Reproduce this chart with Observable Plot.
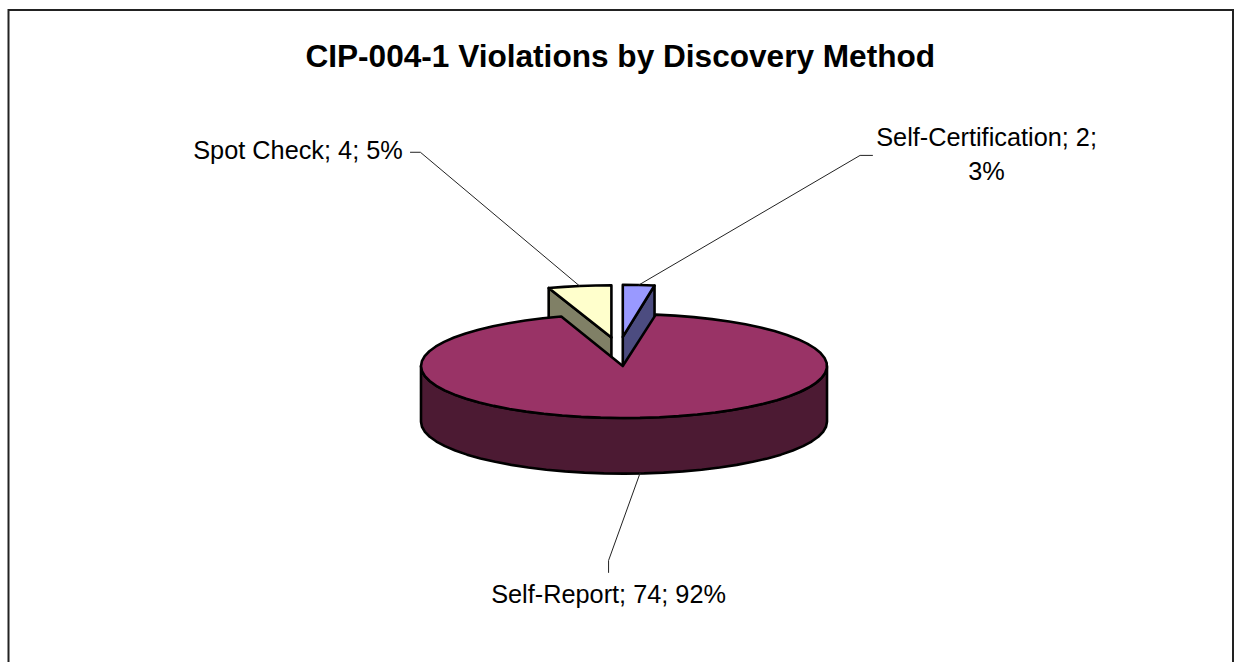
<!DOCTYPE html>
<html>
<head>
<meta charset="utf-8">
<script src="https://cdn.jsdelivr.net/npm/d3@7"></script>
<script src="https://cdn.jsdelivr.net/npm/@observablehq/plot@0.6"></script>
<style>
  html, body { margin: 0; padding: 0; background: #fff; overflow: hidden; }
  svg { display: block; }
</style>
</head>
<body>
<div id="chart"></div>
<script>
// Violations by discovery method, in pie order (clockwise from twelve o'clock)
const methods = ["Self-Certification", "Self-Report", "Spot Check"];
const counts = [2, 74, 4];
const shares = ["3%", "92%", "5%"];
const topColors = ["#9999FF", "#993366", "#FFFFCC"];
const sideColors = ["#4C4C80", "#4C1A33", "#808066"];

// Tilted-disc layout, in units of the disc radius
const depth = 1.07;           // wall height
const hub = [-0.006, 0];      // point where the large slice's edges meet
const explode = [[-0.006, 0.56], hub, [-0.062, 0.55]];
const facet = Math.PI / 32;   // angular length of one outline segment

const arcs = d3.pie().sort(null).value((d) => d)(counts);

const onRim = (angle, [dx, dy] = [0, 0], drop = 0) => ({
  x: Math.sin(angle) + dx,
  y: Math.cos(angle) + dy - drop
});
const sweep = (a0, a1) => {
  const n = Math.max(2, Math.ceil((a1 - a0) / facet));
  return d3.range(0, n + 1).map((i) => a0 + (a1 - a0) * i / n);
};

const polygons = [];
const addPolygon = (name, points, fill) =>
  points.forEach((p) => polygons.push({...p, name, fill}));

// Exploded wedges are drawn first: the large slice's top face overlaps their walls
[0, 2].forEach((i) => {
  const {startAngle: a0, endAngle: a1} = arcs[i];
  const off = explode[i];
  const apex = {x: off[0], y: off[1]};
  const cutAngle = i === 0 ? a1 : a0;
  addPolygon(`${methods[i]} wall`, [
    apex,
    onRim(cutAngle, off),
    onRim(cutAngle, off, depth),
    {x: off[0], y: off[1] - depth},
    apex
  ], sideColors[i]);
  addPolygon(`${methods[i]} top`, [
    apex,
    ...sweep(a0, a1).map((a) => onRim(a, off)),
    apex
  ], topColors[i]);
});

// Large slice: outer wall on the near half, then its top face with the notch
const nearHalf = sweep(Math.PI / 2, 3 * Math.PI / 2);
const hubPoint = {x: hub[0], y: hub[1]};
addPolygon("Self-Report wall", [
  ...nearHalf.map((a) => onRim(a)),
  ...nearHalf.slice().reverse().map((a) => onRim(a, [0, 0], depth)),
  onRim(Math.PI / 2)
], sideColors[1]);
addPolygon("Self-Report top", [
  hubPoint,
  ...sweep(arcs[1].startAngle, arcs[1].endAngle).map((a) => onRim(a)),
  hubPoint
], topColors[1]);

// Leader lines start at the middle of each slice's outer edge
const mid = (i) => (arcs[i].startAngle + arcs[i].endAngle) / 2;
const leaderPaths = [
  [onRim(mid(0), explode[0]), {x: 1.163, y: 4.05}, {x: 1.224, y: 4.05}],
  [onRim(mid(1), [0, 0], depth), {x: -0.076, y: -3.74}, {x: -0.076, y: -3.97}],
  [onRim(mid(2), explode[2]), {x: -1.003, y: 4.11}, {x: -1.052, y: 4.11}]
];
const leaders = leaderPaths.flatMap((pts, i) => pts.map((p) => ({...p, name: methods[i]})));

const labels = [
  {x: 1.786, y: 4.12, text: `${methods[0]}; ${counts[0]};\n${shares[0]}`},
  {x: -0.076, y: -4.34, text: `${methods[1]}; ${counts[1]}; ${shares[1]}`},
  {x: -1.606, y: 4.2, text: `${methods[2]}; ${counts[2]}; ${shares[2]}`}
];

const chart = Plot.plot({
  width: 1235,
  height: 662,
  marginTop: 9.5,
  marginLeft: 8,
  marginRight: 2.5,
  marginBottom: 0,
  style: {background: "#fff", fontFamily: "'Liberation Sans', Arial, sans-serif"},
  x: {domain: [-1, 1], range: [420.5, 826.5], axis: null},
  y: {domain: [-1, 1], range: [417.5, 313.5], axis: null},
  marks: [
    Plot.frame({stroke: "#222", strokeWidth: 2, insetBottom: -20}),
    Plot.line(polygons, {
      x: "x", y: "y", z: "name",
      fill: "fill", stroke: "#000", strokeWidth: 2.6,
      strokeLinejoin: "round", curve: "linear"
    }),
    Plot.line(leaders, {x: "x", y: "y", z: "name", stroke: "#222", strokeWidth: 1}),
    Plot.text(labels, {
      x: "x", y: "y", text: "text",
      fontSize: 25.3, fill: "#000", lineHeight: 1.37
    }),
    Plot.text(["CIP-004-1 Violations by Discovery Method"], {
      frameAnchor: "top", dy: 35, dx: -0.5, fontSize: 31.6, fontWeight: "bold", fill: "#000"
    })
  ]
});
document.getElementById("chart").append(chart);
</script>
</body>
</html>
